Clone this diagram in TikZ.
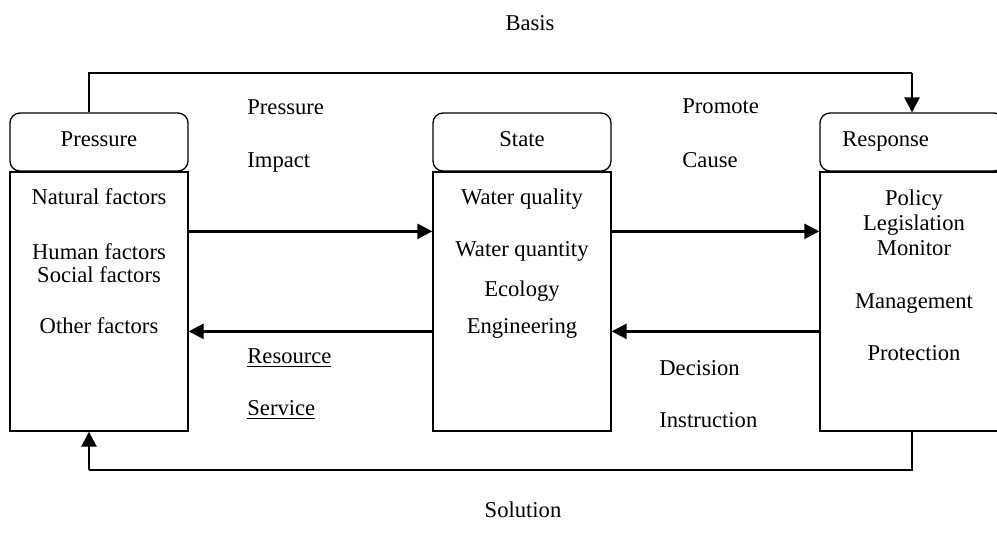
\documentclass[tikz,border=0pt]{standalone}
\usepackage{fontspec}
\setmainfont{Liberation Serif}
\usetikzlibrary{arrows.meta,calc}
\begin{document}
\begin{tikzpicture}[x=0.5pt,y=-0.5pt,
  every node/.style={font=\fontsize{11.3}{13}\selectfont, inner sep=0pt},
  hdr/.style={draw, line width=0.65pt, rounded corners=5pt, minimum width=89pt, minimum height=29pt},
  bodybox/.style={draw, line width=0.65pt, minimum width=89pt, minimum height=129.5pt},
  thinline/.style={line width=0.65pt},
  arr/.style={line width=1.3pt, -{Triangle[length=7.5pt,width=7.5pt]}},
  lbl/.style={anchor=base west},
  ctr/.style={anchor=base}]
\clip (0,0) rectangle (997,547);
\fill[white] (0,0) rectangle (997,547);
% boxes
\node[hdr] (ph) at (99,142) {};
\node[bodybox] (pb) at (99,301.5) {};
\node[hdr] (sh) at (522,142) {};
\node[bodybox] (sb) at (522,301.5) {};
\node[hdr, minimum width=92pt] (rh) at (912,142) {};
\node[bodybox, minimum width=92pt] (rb) at (912,301.5) {};
% header texts
\node[ctr] (pht) at (99,146) {Pressure};
\node[ctr] (sht) at (522,146) {State};
\node[lbl] (rht) at (842,146) {Response};
% pressure body
\node[ctr] (p1) at (99,204) {Natural factors};
\node[ctr] (p2) at (99,259) {Human factors};
\node[ctr] (p3) at (99,282) {Social factors};
\node[ctr] (p4) at (99,333) {Other factors};
% state body
\node[ctr] (s1) at (522,204) {Water quality};
\node[ctr] (s2) at (522,256) {Water quantity};
\node[ctr] (s3) at (522,296) {Ecology};
\node[ctr] (s4) at (522,333) {Engineering};
% response body
\node[ctr] (r1) at (914,205) {Policy};
\node[ctr] (r2) at (914,230) {Legislation};
\node[ctr] (r3) at (914,255) {Monitor};
\node[ctr] (r4) at (914,308) {Management};
\node[ctr] (r5) at (914,360) {Protection};
% labels
\node[ctr] (basis) at (530,30) {Basis};
\node[ctr] (solution) at (523,517) {Solution};
\node[lbl] (l1) at (247,114) {Pressure};
\node[lbl] (l2) at (247,167) {Impact};
\node[lbl] (l3) at (682,113) {Promote};
\node[lbl] (l4) at (682,167) {Cause};
\node[lbl] (l5) at (247,363) {\underline{Resource}};
\node[lbl] (l6) at (247,415) {\underline{Service}};
\node[lbl] (l7) at (659,375) {Decision};
\node[lbl] (l8) at (659,427) {Instruction};
% connectors
\draw[arr] ($(pb.north east)+(0,60)$) -- ($(sb.north west)+(0,60)$);
\draw[arr] ($(sb.north east)+(0,60)$) -- ($(rb.north west)+(0,60)$);
\draw[arr] ($(sb.north west)+(0,160)$) -- ($(pb.north east)+(0,160)$);
\draw[arr] ($(rb.north west)+(0,160)$) -- ($(sb.north east)+(0,160)$);
\coordinate (tl) at (89,73);
\coordinate (tr) at (912,73);
\coordinate (bl) at (89,470);
\coordinate (br) at (912,470);
\draw[thinline] (ph.north -| tl) -- (tl) -- (tr);
\draw[arr] (tr) -- (tr |- rh.north);
\draw[thinline] (rb.south -| br) -- (br) -- (bl);
\draw[arr] (bl) -- (bl |- pb.south);
\end{tikzpicture}
\end{document}
